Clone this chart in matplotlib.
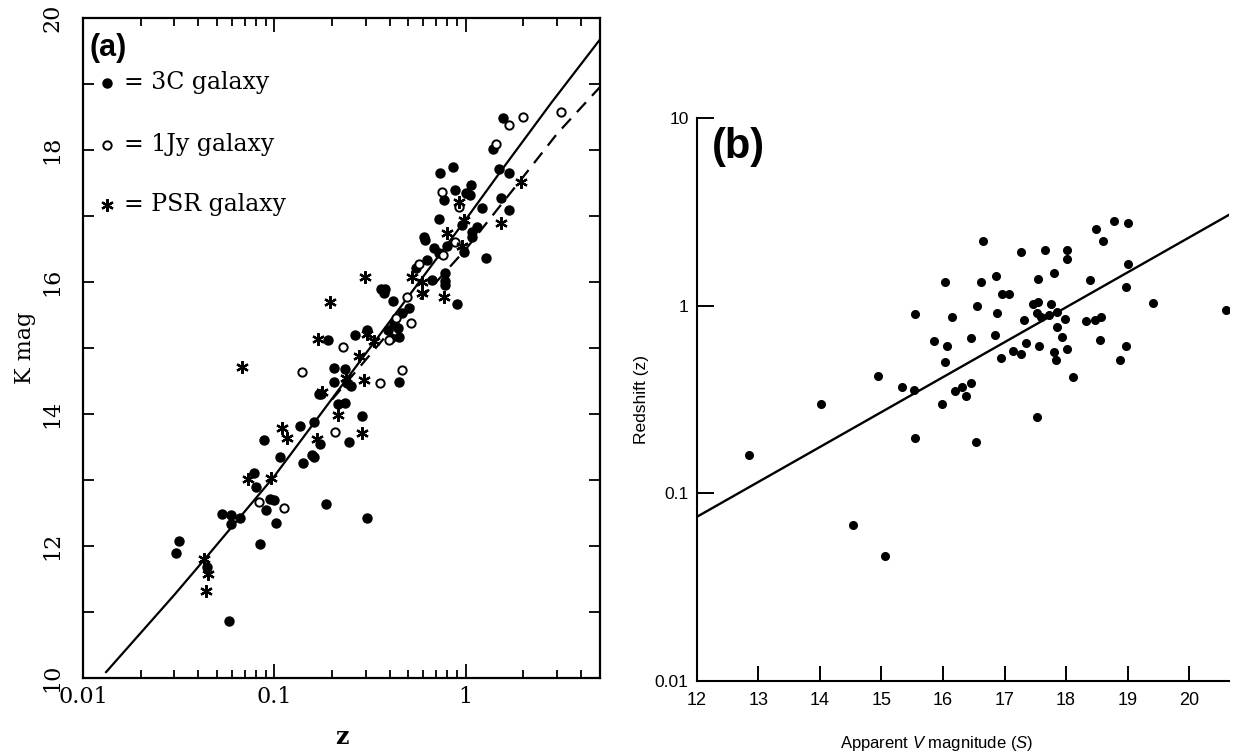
import matplotlib
matplotlib.use('Agg')
import matplotlib.pyplot as plt
from matplotlib.ticker import NullFormatter, NullLocator, LogLocator

plt.rcParams['mathtext.fontset'] = 'custom'
plt.rcParams['mathtext.rm'] = 'Liberation Sans'
plt.rcParams['mathtext.it'] = 'Liberation Sans:italic'

# ---- panel (a): K magnitude vs redshift ----
z_3c = [1.56, 1.39, 0.73, 0.855, 0.767, 0.877, 0.996, 1.06, 1.045, 1.49, 1.67, 1.52, 1.67,
        1.22, 1.15, 1.08, 1.08, 0.957, 0.723, 0.604, 0.61, 0.681, 0.723, 0.80, 0.975, 1.28,
        0.78, 0.78, 0.775, 0.668, 0.629, 0.547, 0.90, 0.36, 0.378, 0.374, 0.417, 0.505,
        0.466, 0.42, 0.39, 0.44, 0.45, 0.405, 0.303, 0.264, 0.19, 0.204, 0.234, 0.205, 0.24,
        0.45, 0.171, 0.25, 0.234, 0.214, 0.288, 0.244, 0.161, 0.136, 0.173, 0.158, 0.16,
        0.141, 0.107, 0.088, 0.078, 0.080, 0.095, 0.1, 0.0905, 0.102, 0.0836, 0.186, 0.306,
        0.0535, 0.0595, 0.0595, 0.0662, 0.0316, 0.0306, 0.0446, 0.0578, 0.175]
k_3c = [18.48, 18.01, 17.66, 17.75, 17.24, 17.39, 17.35, 17.47, 17.32, 17.72, 17.66, 17.28, 17.09,
        17.12, 16.84, 16.76, 16.69, 16.86, 16.96, 16.69, 16.64, 16.51, 16.44, 16.54, 16.46, 16.36,
        16.14, 16.01, 15.96, 16.03, 16.33, 16.21, 15.67, 15.90, 15.90, 15.83, 15.72, 15.60,
        15.53, 15.37, 15.27, 15.30, 15.16, 15.15, 15.27, 15.20, 15.12, 14.70, 14.69, 14.48, 14.47,
        14.48, 14.31, 14.42, 14.16, 14.15, 13.97, 13.58, 13.88, 13.82, 13.54, 13.38, 13.35,
        13.26, 13.35, 13.60, 13.10, 12.90, 12.72, 12.70, 12.54, 12.35, 12.03, 12.63, 12.43,
        12.48, 12.47, 12.34, 12.43, 12.07, 11.90, 11.68, 10.86, 14.30]

z_1jy = [3.14, 2.0, 1.67, 1.43, 0.753, 0.92, 0.88, 0.76, 0.569, 0.495, 0.43, 0.515, 0.397,
         0.227, 0.139, 0.355, 0.462, 0.206, 0.083, 0.112]
k_1jy = [18.58, 18.50, 18.38, 18.09, 17.37, 17.14, 16.60, 16.41, 16.28, 15.78, 15.45, 15.38, 15.12,
         15.02, 14.63, 14.47, 14.66, 13.73, 12.67, 12.58]

z_psr = [1.94, 0.92, 1.53, 0.98, 0.80, 0.95, 0.525, 0.593, 0.588, 0.767, 0.296, 0.195, 0.168,
         0.303, 0.33, 0.275, 0.068, 0.294, 0.236, 0.177, 0.214, 0.11, 0.117, 0.166, 0.288,
         0.073, 0.096, 0.043, 0.045, 0.0437]
k_psr = [17.52, 17.22, 16.90, 16.94, 16.74, 16.55, 16.08, 16.00, 15.83, 15.77, 16.07, 15.70, 15.13,
         15.22, 15.10, 14.88, 14.71, 14.51, 14.54, 14.34, 13.985, 13.79, 13.64, 13.62, 13.72,
         13.01, 13.03, 11.81, 11.58, 11.32]

z_fit = [0.0132, 0.03, 0.0432, 0.1, 0.237, 0.45, 1.0, 1.54, 2.8, 5.0]
k_fit = [10.09, 11.26, 11.80, 13.06, 14.52, 15.60, 16.95, 17.70, 18.72, 19.67]

z_dash = [0.2, 0.4, 0.7, 1.0, 2.0, 3.0, 5.0]
k_dash = [14.22, 15.25, 16.0, 16.5, 17.6, 18.25, 18.95]

# ---- panel (b): redshift vs apparent V magnitude ----
vmag = [18.78, 19.0, 18.49, 18.60, 16.65, 17.27, 17.66, 18.02, 18.02, 19.0, 16.86, 16.62, 16.03,
        17.54, 17.81, 18.39, 16.96, 17.08, 18.98, 19.42, 20.6, 16.56, 17.46, 17.54, 17.76, 16.87,
        17.52, 17.32, 17.59, 17.72, 17.86, 17.99, 17.85, 18.33, 18.47, 18.57, 15.54, 16.15,
        16.85, 16.45, 15.86, 16.07, 17.35, 17.56, 17.94, 18.55, 18.98, 17.14, 17.27, 17.81,
        18.02, 16.94, 16.04, 17.84, 18.88, 14.94, 18.12, 15.33, 15.53, 16.20, 16.31, 16.45,
        16.37, 15.98, 14.02, 17.52, 15.54, 16.53, 12.85, 14.53, 15.06]
zred = [2.81, 2.77, 2.55, 2.20, 2.20, 1.93, 1.97, 1.97, 1.77, 1.67, 1.44, 1.33, 1.33,
        1.39, 1.49, 1.37, 1.16, 1.16, 1.25, 1.03, 0.95, 1.0, 1.02, 1.04, 1.02, 0.91,
        0.91, 0.84, 0.87, 0.89, 0.93, 0.845, 0.77, 0.83, 0.84, 0.87, 0.90, 0.87,
        0.70, 0.675, 0.65, 0.607, 0.63, 0.61, 0.68, 0.66, 0.61, 0.575, 0.55, 0.567,
        0.59, 0.526, 0.50, 0.513, 0.513, 0.42, 0.418, 0.37, 0.354, 0.35, 0.37, 0.387,
        0.33, 0.30, 0.30, 0.255, 0.196, 0.187, 0.16, 0.0676, 0.0465]

v_line = [12.0, 20.65]
z_line = [0.075, 3.05]

fig = plt.figure(figsize=(12.39, 7.54), dpi=100)
serif = 'DejaVu Serif'
sans = 'Liberation Sans'

# panel (a)
ax1 = fig.add_axes([0.067, 0.1008, 0.417, 0.8752])
ax1.set_xscale('log')
ax1.plot(z_fit, k_fit, color='black', lw=1.6)
ax1.plot(z_dash, k_dash, color='black', lw=1.6, dashes=(6, 4))
ax1.plot(z_3c, k_3c, 'o', color='black', ms=6.5)
ax1.plot(z_1jy, k_1jy, 'o', mfc='white', mec='black', mew=1.4, ms=6)
ax1.plot(z_psr, k_psr, marker=(6, 2, 0), ls='none', color='black', ms=9, mew=1.6)
ax1.set_xlim(0.01, 5)
ax1.set_ylim(10, 20)
ax1.set_xticks([0.01, 0.1, 1])
ax1.set_xticklabels(['0.01', '0.1', '1'])
ax1.xaxis.set_minor_locator(LogLocator(subs=range(2, 10)))
ax1.xaxis.set_minor_formatter(NullFormatter())
ax1.set_yticks([10, 12, 14, 16, 18, 20])
ax1.set_yticks([11, 13, 15, 17, 19], minor=True)
ax1.tick_params(which='both', direction='in', top=True, right=True, width=1.3)
ax1.tick_params(axis='x', which='major', length=10, pad=6)
ax1.tick_params(axis='x', which='minor', length=6)
ax1.tick_params(axis='y', which='both', length=8, pad=14)
for lab in ax1.get_xticklabels() + ax1.get_yticklabels():
    lab.set_family(serif)
    lab.set_fontsize(16)
for lab in ax1.get_yticklabels():
    lab.set_rotation(90)
    lab.set_va('center')
for s in ax1.spines.values():
    s.set_linewidth(1.6)
ax1.set_xlabel('z', family=serif, fontsize=17, weight='bold', labelpad=12)
ax1.set_ylabel('K mag', family=serif, fontsize=16, labelpad=4)

ax1.text(0.012, 0.955, '(a)', transform=ax1.transAxes, family=sans, weight='bold',
         fontsize=22, va='center', ha='left')
legend_rows = [('o', 'black', '= 3C galaxy', 0.902),
               ('o', 'white', '= 1Jy galaxy', 0.808),
               ((6, 2, 0), 'black', '= PSR galaxy', 0.717)]
for mk, fc, label, yy in legend_rows:
    if mk == 'o' and fc == 'black':
        ax1.plot([0.046], [yy], 'o', color='black', ms=6.5, transform=ax1.transAxes)
    elif mk == 'o':
        ax1.plot([0.046], [yy], 'o', mfc='white', mec='black', mew=1.4, ms=6,
                 transform=ax1.transAxes)
    else:
        ax1.plot([0.046], [yy], marker=mk, color='black', ms=9, mew=1.6, ls='none',
                 transform=ax1.transAxes)
    ax1.text(0.08, yy, label, transform=ax1.transAxes, family=serif,
             fontsize=17, va='center', ha='left')

# panel (b)
ax2 = fig.add_axes([0.5625, 0.0968, 0.4295, 0.7467])
ax2.set_yscale('log')
ax2.plot(v_line, z_line, color='black', lw=1.7)
ax2.plot(vmag, zred, 'o', color='black', ms=5.5)
ax2.set_xlim(12, 20.65)
ax2.set_ylim(0.01, 10)
ax2.set_xticks(range(12, 21))
ax2.set_yticks([0.01, 0.1, 1, 10])
ax2.set_yticklabels(['0.01', '0.1', '1', '10'])
ax2.yaxis.set_minor_locator(NullLocator())
ax2.spines['top'].set_visible(False)
ax2.spines['right'].set_visible(False)
for s in ax2.spines.values():
    s.set_linewidth(1.5)
ax2.tick_params(which='both', direction='in', width=1.4)
ax2.tick_params(axis='y', length=12, pad=6)
ax2.tick_params(axis='x', length=11, pad=8)
for lab in ax2.get_xticklabels():
    lab.set_family(sans)
    lab.set_fontsize(13)
for lab in ax2.get_yticklabels():
    lab.set_family(sans)
    lab.set_fontsize(12.5)
ax2.set_xlabel(r'Apparent $\mathit{V}$ magnitude ($\mathit{S}$)', family=sans,
               fontsize=12)
ax2.xaxis.set_label_coords(0.45, -0.095)
ax2.set_ylabel('Redshift (z)', family=sans, fontsize=12.5, labelpad=4)
ax2.text(0.028, 0.948, '(b)', transform=ax2.transAxes, family=sans, weight='bold',
         fontsize=30, va='center', ha='left')

fig.savefig('out.png', dpi=100)
